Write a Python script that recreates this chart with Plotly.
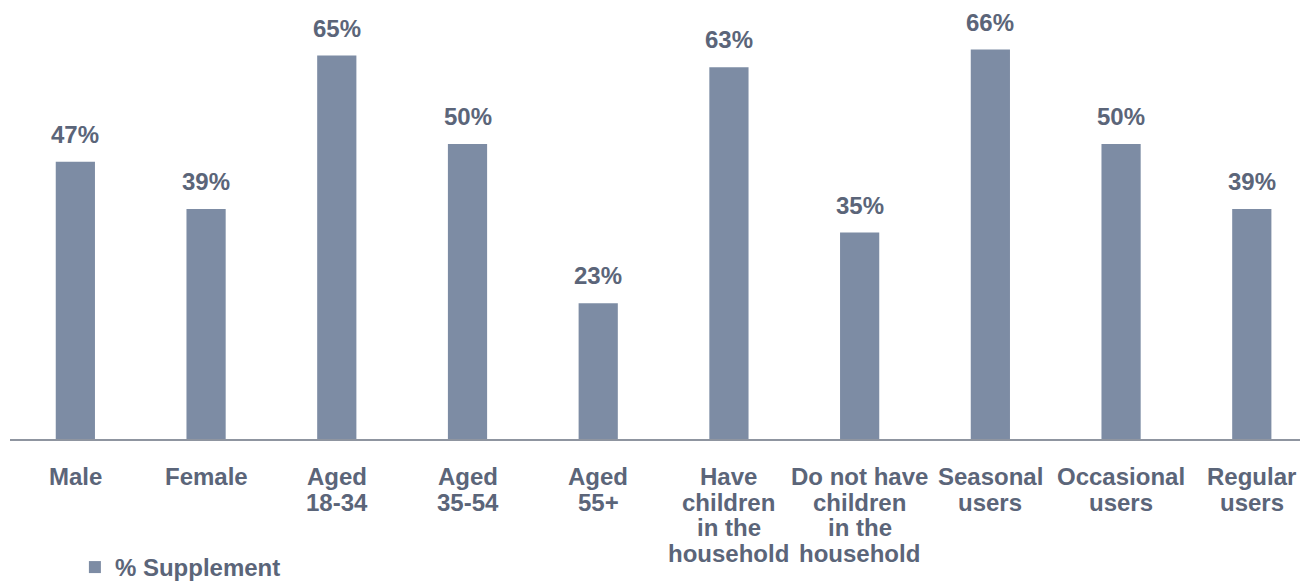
import plotly.graph_objects as go

categories = ["Male", "Female", "Aged\n18-34", "Aged\n35-54", "Aged\n55+",
              "Have\nchildren\nin the\nhousehold",
              "Do not have\nchildren\nin the\nhousehold",
              "Seasonal\nusers", "Occasional\nusers", "Regular\nusers"]
supplement = [47, 39, 65, 50, 23, 63, 35, 66, 50, 39]
series_name = "% Supplement"

BAR = "#7D8CA4"
TXT = "#5B6579"
FONT = "Liberation Sans, Arial, Helvetica, sans-serif"

x_idx = list(range(len(categories)))

fig = go.Figure()
fig.add_trace(go.Bar(
    x=x_idx, y=supplement, name=f"<b>{series_name}</b>", width=0.3,
    marker=dict(color=BAR, line=dict(width=0)),
    showlegend=True,
))

# value labels above bars
for xi, v in zip(x_idx, supplement):
    fig.add_annotation(x=xi, y=v, xref="x", yref="y", text=f"<b>{v}%</b>",
                       showarrow=False, yanchor="bottom", yshift=12,
                       font=dict(family=FONT, size=24, color=TXT))

# category labels below axis (tight line spacing)
for xi, cat in zip(x_idx, categories):
    for k, line in enumerate(cat.split("\n")):
        fig.add_annotation(x=xi, y=0, xref="x", yref="y", text=f"<b>{line}</b>",
                           showarrow=False, yanchor="top", yshift=-(22 + k * 25.7),
                           font=dict(family=FONT, size=24, color=TXT))

fig.update_layout(
    width=1300, height=575,
    margin=dict(l=2, r=0, t=18, b=144, autoexpand=False),
    paper_bgcolor="white", plot_bgcolor="white",
    font=dict(family=FONT, color=TXT),
    xaxis=dict(
        tickmode="array", tickvals=x_idx, showticklabels=False,
        range=[-0.5, 9.43],
        showgrid=False, zeroline=False, ticks="",
        showline=True, linecolor="#8F95A0", linewidth=1.5,
    ),
    yaxis=dict(range=[0, 70], visible=False, showgrid=False, zeroline=False),
    legend=dict(orientation="h", x=0.05, xanchor="left",
                yref="container", y=0.027, yanchor="middle",
                font=dict(family=FONT, size=24, color=TXT),
                bgcolor="rgba(0,0,0,0)"),
    showlegend=True,
)

fig.write_html("out.html")
